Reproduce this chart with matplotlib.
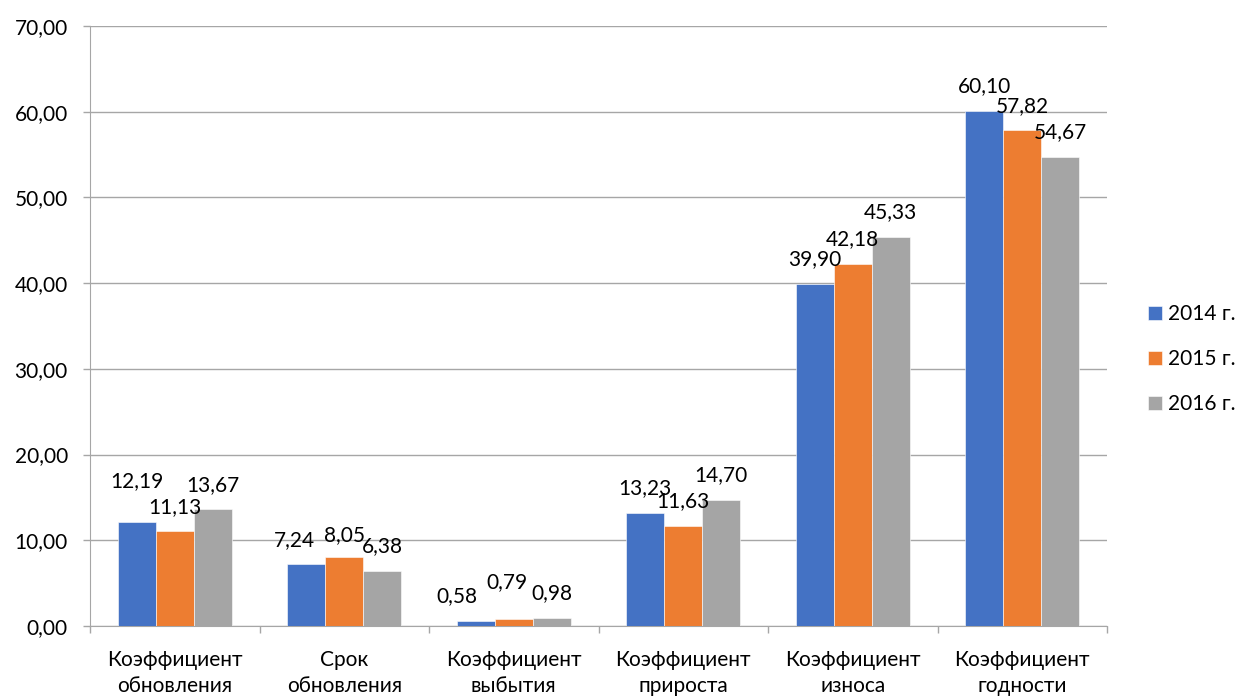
import matplotlib.pyplot as plt
import numpy as np
from matplotlib.ticker import FuncFormatter

plt.rcParams['font.family'] = ['Lato', 'DejaVu Sans']

# данные
categories = ['Коэффициент\nобновления', 'Срок\nобновления', 'Коэффициент\nвыбытия',
              'Коэффициент\nприроста', 'Коэффициент\nизноса', 'Коэффициент\nгодности']
years = ['2014 г.', '2015 г.', '2016 г.']
v2014 = [12.19, 7.24, 0.58, 13.23, 39.90, 60.10]
v2015 = [11.13, 8.05, 0.79, 11.63, 42.18, 57.82]
v2016 = [13.67, 6.38, 0.98, 14.70, 45.33, 54.67]
colors = ['#4472C4', '#ED7D31', '#A5A5A5']

# сдвиги подписей (в пикселях), как расставил Excel
label_dx = [[0, -12, -19, 0, 0, 0],
            [0, 0, -7, 0, 0, 0],
            [0, 0, 0, 0, 0, 0]]
label_dy = [[40, 24, 25, 25, 25, 25],
            [24, 22, 37, 25, 25, 24],
            [24, 25, 25, 25, 25, 25]]

fs = 15
fig = plt.figure(figsize=(12.39, 6.98), dpi=100)
ax = fig.add_axes([90 / 1239, 1 - 626 / 698, (1107 - 90) / 1239, 600 / 698])

x = np.arange(len(categories))
w = 0.224
px = 72 / 100
for i, vals in enumerate([v2014, v2015, v2016]):
    pos = x + (i - 1) * w
    ax.bar(pos, vals, w, color=colors[i], label=years[i], zorder=3,
           edgecolor='white', linewidth=0.4)
    for j, v in enumerate(vals):
        ax.annotate(f'{v:.2f}'.replace('.', ','), (pos[j], v),
                    xytext=(label_dx[i][j] * px, label_dy[i][j] * px),
                    textcoords='offset points', ha='center', va='center',
                    fontsize=fs, color='black', zorder=4)

ax.set_xlim(-0.5, len(categories) - 0.5)
ax.set_ylim(0, 70)
ax.set_yticks(np.arange(0, 71, 10))
ax.yaxis.set_major_formatter(FuncFormatter(lambda v, p: f'{v:.2f}'.replace('.', ',')))
ax.grid(axis='y', color='#a6a6a6', linewidth=1, zorder=0)

ax.set_xticks(x)
ax.set_xticklabels(categories, fontsize=fs, linespacing=1.4)
ax.set_xticks(np.arange(-0.5, len(categories)), minor=True)
ax.tick_params(axis='x', which='major', length=0, pad=17)
ax.tick_params(axis='x', which='minor', length=5, color='#a6a6a6', width=1)
ax.tick_params(axis='y', length=5, color='#a6a6a6', width=1, labelsize=fs, pad=11)

for s in ['top', 'right']:
    ax.spines[s].set_visible(False)
ax.spines['left'].set_color('#a6a6a6')
ax.spines['bottom'].set_color('#a6a6a6')

ax.legend(loc='center left', bbox_to_anchor=(1.04, 0.445), frameon=False,
          borderaxespad=0, borderpad=0,
          fontsize=fs, handlelength=0.67, handleheight=0.67, handletextpad=0.3,
          labelspacing=1.2)

plt.savefig('out.png', dpi=100)
